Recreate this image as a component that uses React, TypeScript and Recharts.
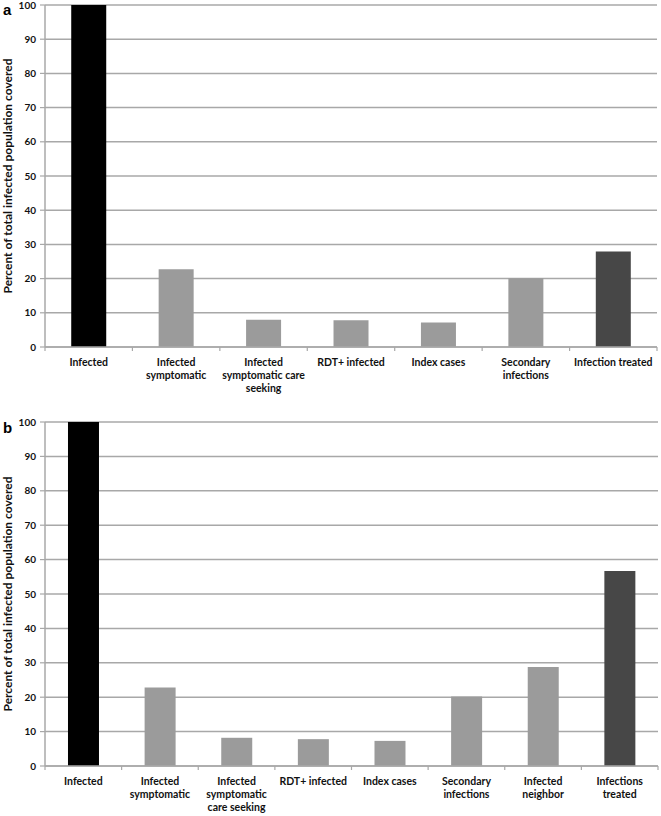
import { Bar, BarChart, CartesianGrid, Cell, XAxis, YAxis, Label } from 'recharts'

// panel a
const catsA = [
  'Infected',
  'Infected\nsymptomatic',
  'Infected\nsymptomatic care\nseeking',
  'RDT+ infected',
  'Index cases',
  'Secondary\ninfections',
  'Infection treated',
]
const valsA = [100, 22.7, 8.0, 7.8, 7.2, 20.1, 27.9]

// panel b
const catsB = [
  'Infected',
  'Infected\nsymptomatic',
  'Infected\nsymptomatic\ncare seeking',
  'RDT+ infected',
  'Index cases',
  'Secondary\ninfections',
  'Infected\nneighbor',
  'Infections\ntreated',
]
const valsB = [100, 22.8, 8.2, 7.8, 7.3, 20.2, 28.8, 56.7]

const yTicks = [0, 10, 20, 30, 40, 50, 60, 70, 80, 90, 100]
const yLabel = 'Percent of total infected population covered'

const FONT = 'Lato, "Open Sans", sans-serif'
const GRID = '#a8a8a8'

const barColor = (i: number, n: number) => (i === 0 ? '#000000' : i === n - 1 ? '#474747' : '#9b9b9b')

function makeTick(band: number, n: number) {
  return function XTick(props: any) {
    const { x, y, payload, index } = props
    const lines = String(payload.value).split('\n')
    return (
      <g>
        <line x1={x - band / 2} x2={x - band / 2} y1={y} y2={y + 4} stroke={GRID} strokeWidth={1.2} />
        {index === n - 1 && (
          <line x1={x + band / 2} x2={x + band / 2} y1={y} y2={y + 4} stroke={GRID} strokeWidth={1.2} />
        )}
        <text x={x} y={y + 19} textAnchor="middle" fontFamily={FONT} fontWeight={700} fontSize={10.5} fill="#111">
          {lines.map((l, k) => (
            <tspan key={k} x={x} dy={k === 0 ? 0 : 13}>
              {l}
            </tspan>
          ))}
        </text>
      </g>
    )
  }
}

type PanelProps = {
  cats: string[]
  vals: number[]
  height: number
  top: number
  right: number
  xHeight: number
  letter: string
  letterY: number
}

function Panel({ cats, vals, height, top, right, xHeight, letter, letterY }: PanelProps) {
  const W = 661
  const yW = 45
  const data = cats.map((c, i) => ({ name: c, value: vals[i] }))
  const band = (W - yW - right) / cats.length
  return (
    <div style={{ position: 'relative', width: W, height }}>
      <div
        style={{
          position: 'absolute',
          left: 3,
          top: letterY,
          fontFamily: '"Liberation Sans", Arial, sans-serif',
          fontWeight: 700,
          fontSize: 15,
          lineHeight: 1,
        }}
      >
        {letter}
      </div>
      <BarChart
        width={W}
        height={height}
        data={data}
        margin={{ top, right, left: 0, bottom: 0 }}
        barCategoryGap="30%"
      >
        <CartesianGrid vertical={false} stroke={GRID} strokeWidth={1.5} />
        <XAxis
          dataKey="name"
          interval={0}
          height={xHeight}
          tickLine={false}
          tickSize={0}
          tickMargin={0}
          axisLine={{ stroke: GRID, strokeWidth: 1.5 }}
          tick={makeTick(band, cats.length)}
        />
        <YAxis
          width={yW}
          domain={[0, 100]}
          ticks={yTicks}
          interval={0}
          tickSize={5}
          tickMargin={4}
          axisLine={{ stroke: GRID, strokeWidth: 1.5 }}
          tickLine={{ stroke: GRID, strokeWidth: 1.2 }}
          tick={{ fontFamily: FONT, fontWeight: 700, fontSize: 10, fill: '#111' }}
        >
          <Label
            value={yLabel}
            angle={-90}
            position="insideLeft"
            offset={0}
            dx={8}
            style={{ fontFamily: FONT, fontWeight: 700, fontSize: 12, fill: '#111', textAnchor: 'middle' }}
          />
        </YAxis>
        <Bar dataKey="value" isAnimationActive={false}>
          {data.map((_, i) => (
            <Cell key={i} fill={barColor(i, data.length)} />
          ))}
        </Bar>
      </BarChart>
    </div>
  )
}

export default function App() {
  return (
    <div style={{ position: 'absolute', left: 0, top: 0, width: 661, height: 816, background: '#fff' }}>
      <Panel cats={catsA} vals={valsA} height={400} top={5} right={4} xHeight={53} letter="a" letterY={2} />
      <Panel cats={catsB} vals={valsB} height={416} top={22} right={3} xHeight={50} letter="b" letterY={20} />
    </div>
  )
}
